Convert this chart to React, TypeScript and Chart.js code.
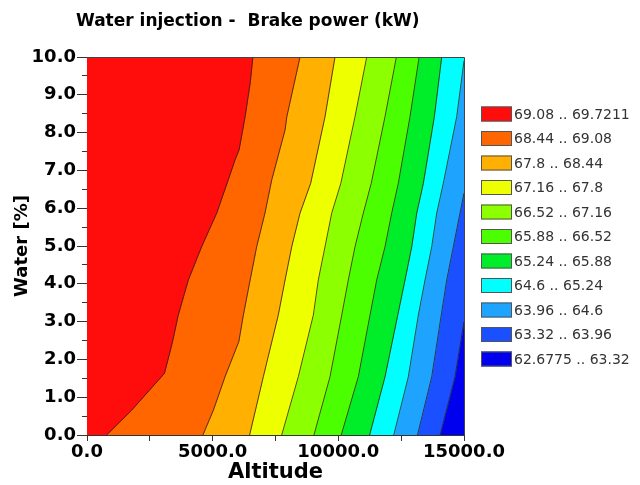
import React, { useEffect, useRef } from 'react';
import { Chart, registerables } from 'chart.js';

Chart.register(...registerables);

const TITLE = 'Water injection -  Brake power (kW)';
const X_TITLE = 'Altitude';
const Y_TITLE = 'Water [%]';
const X_MIN = 0;
const X_MAX = 15000;
const Y_MIN = 0;
const Y_MAX = 10;
const X_STEP = 2500;
const X_LABEL_STEP = 5000;
const Y_STEP = 0.5;

const BAND_LABELS = [
  '69.08 .. 69.7211',
  '68.44 .. 69.08',
  '67.8 .. 68.44',
  '67.16 .. 67.8',
  '66.52 .. 67.16',
  '65.88 .. 66.52',
  '65.24 .. 65.88',
  '64.6 .. 65.24',
  '63.96 .. 64.6',
  '63.32 .. 63.96',
  '62.6775 .. 63.32',
];

const BAND_COLORS = [
  '#ff0c0c',
  '#ff6600',
  '#ffb000',
  '#eeff00',
  '#8cff00',
  '#4cff00',
  '#00ee2a',
  '#00ffff',
  '#1ea4ff',
  '#1a50ff',
  '#0000ee',
];

// Contour boundaries, [altitude, water %], from the bottom edge up to the top or right edge
const B_69_08 = [[780, 0], [1780, 0.66], [3080, 1.63], [3390, 2.43], [3630, 3.17], [4030, 4.1], [4560, 4.98], [5160, 5.87], [5620, 6.75], [5890, 7.28], [6050, 7.54], [6290, 8.42], [6490, 9.3], [6600, 10]];
const B_68_44 = [[4610, 0], [5030, 0.66], [5490, 1.54], [6040, 2.47], [6220, 3.17], [6490, 4.1], [6750, 4.98], [7080, 5.87], [7350, 6.75], [7880, 8.07], [7950, 8.42], [8475, 10]];
const B_67_8 = [[6470, 0], [7015, 1.54], [7610, 3.17], [7880, 4.1], [8145, 4.98], [8475, 5.87], [8900, 6.66], [9470, 8.42], [9867, 10]];
const B_67_16 = [[7747, 0], [8408, 1.54], [9005, 3.17], [9204, 4.1], [9470, 4.98], [9737, 5.87], [10100, 6.66], [10664, 8.42], [11130, 10]];
const B_66_52 = [[9030, 0], [9669, 1.54], [10135, 3.17], [10397, 4.1], [10664, 4.98], [10994, 5.87], [11310, 6.66], [11857, 8.42], [12310, 10]];
const B_65_88 = [[10115, 0], [10795, 1.54], [11260, 3.17], [11527, 4.1], [11857, 4.98], [12124, 5.87], [12387, 6.66], [12852, 8.42], [13215, 10]];
const B_65_24 = [[11245, 0], [11857, 1.54], [12363, 3.17], [12653, 4.1], [12920, 4.98], [13119, 5.87], [13382, 6.66], [13819, 8.42], [14113, 10]];
const B_64_6 = [[12205, 0], [12785, 1.54], [13183, 3.17], [13450, 4.1], [13716, 4.98], [13915, 5.87], [14177, 6.66], [14710, 8.42], [15000, 9.9]];
const B_63_96 = [[13150, 0], [13716, 1.54], [14113, 3.25], [14312, 4.1], [14575, 4.98], [15000, 6.4]];
const B_63_32 = [[14050, 0], [14642, 1.54], [15000, 3.0]];

const BOUNDARIES = [B_69_08, B_68_44, B_67_8, B_67_16, B_66_52, B_65_88, B_65_24, B_64_6, B_63_96, B_63_32];

type P = { x: number; y: number };

const toPts = (arr: number[][]): P[] => arr.map(([x, y]) => ({ x, y }));

// path of a boundary extended to the top-right corner if it exits on the right edge
function boundaryPath(i: number): P[] {
  if (i < 0) return [{ x: X_MIN, y: Y_MIN }, { x: X_MIN, y: Y_MAX }];
  if (i >= BOUNDARIES.length) return [{ x: X_MAX, y: Y_MIN }, { x: X_MAX, y: Y_MAX }];
  const pts = toPts(BOUNDARIES[i]);
  const last = pts[pts.length - 1];
  if (last.y < Y_MAX) pts.push({ x: X_MAX, y: Y_MAX });
  return pts;
}

function bandPolygon(i: number): P[] {
  const right = boundaryPath(i);
  const left = boundaryPath(i - 1).slice().reverse();
  return [...right, ...left];
}

const FONT = 'DejaVu Sans';

const decorPlugin = {
  id: 'decor',
  afterDraw(chart: any) {
    const { ctx, chartArea } = chart;
    ctx.save();
    // frame top/right
    ctx.strokeStyle = '#444';
    ctx.lineWidth = 1;
    ctx.beginPath();
    ctx.moveTo(chartArea.left, chartArea.top + 0.5);
    ctx.lineTo(chartArea.right + 0.5, chartArea.top + 0.5);
    ctx.lineTo(chartArea.right + 0.5, chartArea.bottom);
    ctx.stroke();
    // title
    ctx.fillStyle = '#000';
    ctx.font = `bold 17px "${FONT}"`;
    ctx.textAlign = 'left';
    ctx.textBaseline = 'middle';
    ctx.fillText(TITLE, 76, 22);
    // legend
    const x0 = 481;
    const y0 = 114;
    const dy = 24.5;
    ctx.font = `14px "${FONT}"`;
    BAND_LABELS.forEach((label, i) => {
      const yc = y0 + i * dy;
      ctx.fillStyle = BAND_COLORS[i];
      ctx.fillRect(x0, yc - 7.5, 31, 15);
      ctx.strokeStyle = '#555';
      ctx.strokeRect(x0 + 0.5, yc - 7.5 + 0.5, 30, 14);
      ctx.fillStyle = '#333';
      ctx.fillText(label, x0 + 33, yc + 1);
    });
    ctx.restore();
  },
};

export default function App() {
  const ref = useRef<HTMLCanvasElement | null>(null);

  useEffect(() => {
    if (!ref.current) return;
    const bandSets = BAND_COLORS.map((color, i) => ({
      label: BAND_LABELS[i],
      data: bandPolygon(i),
      showLine: true,
      fill: 'shape',
      backgroundColor: color,
      borderColor: color,
      borderWidth: 1,
      pointRadius: 0,
      tension: 0,
      clip: 0,
      order: 2,
    }));
    const lineSets = BOUNDARIES.map((b, i) => ({
      label: 'boundary ' + i,
      data: toPts(b),
      showLine: true,
      fill: false,
      borderColor: 'rgba(45,30,30,0.8)',
      borderWidth: 1,
      pointRadius: 0,
      tension: 0,
      clip: 0,
      order: 1,
    }));

    const chart = new Chart(ref.current, {
      type: 'scatter',
      data: { datasets: [...bandSets, ...lineSets] as any },
      options: {
        animation: false,
        responsive: true,
        maintainAspectRatio: false,
        layout: { padding: { top: 57, right: 176, bottom: 0, left: 0 } },
        plugins: {
          legend: { display: false },
          title: { display: false },
          tooltip: { enabled: false },
        },
        scales: {
          x: {
            type: 'linear',
            position: 'bottom',
            min: X_MIN,
            max: X_MAX,
            afterFit: (s: any) => { s.height = 50; },
            ticks: {
              stepSize: X_STEP,
              autoSkip: false,
              maxRotation: 0,
              padding: 1,
              color: '#000',
              font: { family: FONT, size: 18, weight: 'bold' },
              callback: (v: any) => (Number(v) % X_LABEL_STEP === 0 ? Number(v).toFixed(1) : ''),
            },
            grid: { drawOnChartArea: false, tickLength: 6, tickColor: '#333' },
            border: { color: '#333', width: 1 },
            title: {
              display: true,
              text: X_TITLE,
              color: '#000',
              font: { family: FONT, size: 21, weight: 'bold' },
              padding: { top: 0, bottom: 0 },
            },
          },
          y: {
            type: 'linear',
            position: 'left',
            min: Y_MIN,
            max: Y_MAX,
            afterFit: (s: any) => { s.width = 87; },
            ticks: {
              stepSize: Y_STEP,
              autoSkip: false,
              padding: 1,
              color: '#000',
              font: { family: FONT, size: 18, weight: 'bold' },
              callback: (v: any) => (Number.isInteger(Number(v)) ? Number(v).toFixed(1) : ''),
            },
            grid: {
              drawOnChartArea: false,
              tickLength: 10,
              tickColor: '#333',
              tickBorderDash: (c: any) => (c.tick && Number.isInteger(c.tick.value) ? [] : [0, 5, 5, 100]),
            },
            border: { color: '#333', width: 1 },
            title: {
              display: true,
              text: Y_TITLE,
              color: '#000',
              font: { family: FONT, size: 18, weight: 'bold' },
              padding: { top: 12, bottom: 0 },
            },
          },
        },
      } as any,
      plugins: [decorPlugin],
    });
    return () => chart.destroy();
  }, []);

  return (
    <div style={{ position: 'absolute', left: 0, top: 0, width: 640, height: 485, background: '#fff' }}>
      <canvas ref={ref} />
    </div>
  );
}
